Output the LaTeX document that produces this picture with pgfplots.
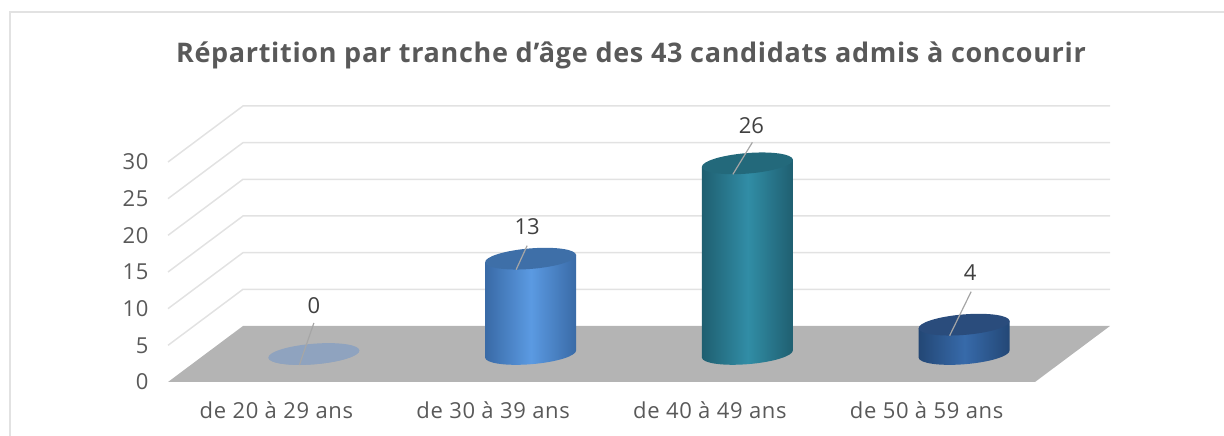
\documentclass[border=0pt]{standalone}
\usepackage{pgfplots}
\pgfplotsset{compat=1.18}
\usepackage{fontspec}
\setmainfont{Open Sans}
\definecolor{txt}{HTML}{595959}
\definecolor{lab}{HTML}{404040}
\definecolor{gridc}{HTML}{E2E2E2}
\definecolor{floorc}{HTML}{B4B4B4}
\definecolor{leader}{HTML}{A6A6A6}
\definecolor{HTMLa}{HTML}{8FA3BF}
\definecolor{HTMLb1}{HTML}{396AA6}
\definecolor{HTMLb2}{HTML}{5B9AE2}
\definecolor{HTMLb3}{HTML}{3E6FA8}
\definecolor{HTMLc1}{HTML}{1F5F70}
\definecolor{HTMLc2}{HTML}{318DA6}
\definecolor{HTMLc3}{HTML}{23697B}
\definecolor{HTMLd1}{HTML}{234775}
\definecolor{HTMLd2}{HTML}{376AAA}
\definecolor{HTMLd3}{HTML}{2A4C7C}
% one cylinder drawn at its data point (1 px = 1 pt); depth shift 37.5,28
% #1 edge, #2 centre, #3 top, #4 #5 leader top, #6 #7 label position
\newcommand\drawcyl[7]{%
  \pgfmathsetmacro\hh{\h*7.33}%
  \pgftransformshift{\pgfqpoint{37.5pt}{28pt}}%
  \path[draw=none,left color=#1,right color=#1,middle color=#2]
    (-45.5pt,-3.7pt) -- (-45.5pt,-\hh pt-3.7pt)
    .. controls (-45.04pt,-\hh pt-9.34pt) and (-24.3pt,-\hh pt-12.26pt) .. (0.83pt,-\hh pt-10.22pt)
    .. controls (25.96pt,-\hh pt-8.18pt) and (45.96pt,-\hh pt-1.94pt) .. (45.5pt,-\hh pt+3.7pt)
    -- (45.5pt,3.7pt) -- cycle;
  \pgfsetfillcolor{#3}%
  \pgfpathellipse{\pgfqpoint{0pt}{0pt}}{\pgfqpoint{45.5pt}{3.7pt}}{\pgfqpoint{-0.83pt}{10.22pt}}%
  \pgfusepath{fill}%
  \draw[draw=leader,line width=1.2pt] (-14.5pt,-11pt) -- (#4pt,#5pt);
  \node[draw=none,fill=none,text=lab,font=\fontsize{22pt}{26pt}\selectfont,inner sep=0pt] at (#6pt,#7pt) {\pgfmathprintnumber{\h}};}
\pgfdeclareplotmark{cyl-a}{\drawcyl{HTMLa}{HTMLa}{HTMLa}{0}{31}{0}{48}}
\pgfdeclareplotmark{cyl-b}{\drawcyl{HTMLb1}{HTMLb2}{HTMLb3}{-3.5}{13}{-3.5}{32}}
\pgfdeclareplotmark{cyl-c}{\drawcyl{HTMLc1}{HTMLc2}{HTMLc3}{5}{21}{4}{38}}
\pgfdeclareplotmark{cyl-d}{\drawcyl{HTMLd1}{HTMLd2}{HTMLd3}{7}{33}{6}{52}}
\begin{document}
\begin{tikzpicture}[x=1pt,y=1pt]
\useasboundingbox (0,0) rectangle (1224,436);
\draw[color=gridc,line width=1.5pt] (10,0) -- (10,424) -- (1224,424);
\begin{axis}[
  at={(168pt,54pt)},anchor=south west,
  scale only axis,width=867pt,height=220pt,
  xmin=-0.5,xmax=3.5,ymin=0,ymax=30,clip=false,
  axis line style={draw=none},tick style={draw=none},
  xtick={0,1,2,3},
  xticklabels={de 20 à 29 ans,de 30 à 39 ans,de 40 à 49 ans,de 50 à 59 ans},
  ytick={0,5,10,15,20,25,30},
  /pgf/number format/assume math mode=true,
  ticklabel style={text=txt,font=\fontsize{22pt}{26pt}\selectfont\addfontfeatures{LetterSpace=3}},
  xticklabel style={yshift=-16pt},
  yticklabel style={xshift=-16pt},
  scatter/use mapped color={draw=none,fill=none},
  title={\addfontfeatures{LetterSpace=2.5}Répartition par tranche d\char39 âge des 43 candidats admis à concourir},
  title style={at={(0.534,1.455)},anchor=center,text=txt,font=\fontsize{27pt}{32pt}\selectfont\bfseries},
]
% floor
\addplot[fill=floorc,draw=none] coordinates {(-0.5,0) (-0.154,7.64) (3.846,7.64) (3.5,0)} \closedcycle;
% gridlines
\addplot[gridc,line width=1.5pt] coordinates {(-0.5,5) (-0.154,12.64) (3.846,12.64)};
\addplot[gridc,line width=1.5pt] coordinates {(-0.5,10) (-0.154,17.64) (3.846,17.64)};
\addplot[gridc,line width=1.5pt] coordinates {(-0.5,15) (-0.154,22.64) (3.846,22.64)};
\addplot[gridc,line width=1.5pt] coordinates {(-0.5,20) (-0.154,27.64) (3.846,27.64)};
\addplot[gridc,line width=1.5pt] coordinates {(-0.5,25) (-0.154,32.64) (3.846,32.64)};
\addplot[gridc,line width=1.5pt] coordinates {(-0.5,30) (-0.154,37.64) (3.846,37.64)};
% cylinders
\addplot[scatter,only marks,visualization depends on={y\as\h},mark=cyl-a] coordinates {(0,0)};
\addplot[scatter,only marks,visualization depends on={y\as\h},mark=cyl-b] coordinates {(1,13)};
\addplot[scatter,only marks,visualization depends on={y\as\h},mark=cyl-c] coordinates {(2,26)};
\addplot[scatter,only marks,visualization depends on={y\as\h},mark=cyl-d] coordinates {(3,4)};
\end{axis}
\end{tikzpicture}
\end{document}
